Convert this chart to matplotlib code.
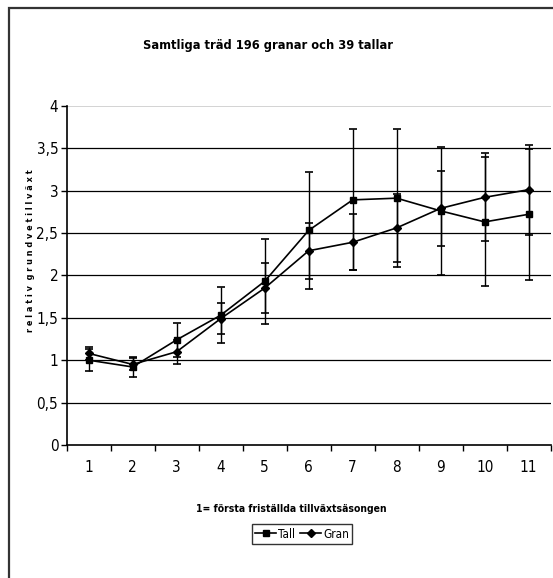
import matplotlib
matplotlib.use("Agg")
import matplotlib.pyplot as plt
from matplotlib.patches import Rectangle
from matplotlib.lines import Line2D

plt.rcParams['font.family'] = ['DejaVu Sans']
plt.rcParams['font.stretch'] = 'condensed'

# data
seasons = [1, 2, 3, 4, 5, 6, 7, 8, 9, 10, 11]
tall = [1.00, 0.92, 1.24, 1.53, 1.93, 2.53, 2.89, 2.91, 2.76, 2.63, 2.72]
tall_err = [0.13, 0.12, 0.20, 0.33, 0.50, 0.69, 0.83, 0.81, 0.75, 0.76, 0.77]
gran = [1.08, 0.95, 1.10, 1.49, 1.85, 2.29, 2.39, 2.56, 2.79, 2.92, 3.01]
gran_err = [0.08, 0.07, 0.14, 0.18, 0.29, 0.33, 0.33, 0.40, 0.44, 0.52, 0.53]
y_ticks = [0, 0.5, 1, 1.5, 2, 2.5, 3, 3.5, 4]
y_labels = ['0', '0,5', '1', '1,5', '2', '2,5', '3', '3,5', '4']

fig = plt.figure(figsize=(5.53, 5.78), dpi=100)
ax = fig.add_axes([0.1206, 0.2301, 0.8752, 0.5870])

# outer frame (only left and top edges visible in the picture)
fig.patches.append(Rectangle((8.5 / 553, -0.1), 1.2, 1.1 - 8.5 / 578,
                             transform=fig.transFigure, fill=False,
                             edgecolor='#333333', linewidth=1.6))

ax.errorbar(seasons, tall, yerr=tall_err, color='black', marker='s',
            markersize=5, linewidth=1.2, capsize=3, capthick=1.2,
            elinewidth=1.0, zorder=3)
ax.errorbar(seasons, gran, yerr=gran_err, color='black', marker='D',
            markersize=4.5, linewidth=1.2, capsize=3, capthick=1.2,
            elinewidth=1.0, zorder=3)

ax.set_xlim(0.5, 11.5)
ax.set_ylim(0, 4)
ax.set_yticks(y_ticks)
ax.set_yticklabels(y_labels)
ax.set_xticks(seasons)
ax.set_xticks([s + 0.5 for s in [0] + seasons], minor=True)
ax.tick_params(axis='x', which='major', length=0, pad=11, labelsize=11)
ax.tick_params(axis='x', which='minor', length=4, width=1, direction='out')
ax.tick_params(axis='y', length=4, width=1, direction='out', pad=2, labelsize=11)

for v in y_ticks[1:-1]:
    ax.axhline(v, color='black', linewidth=0.9, zorder=1)
ax.axhline(4, color='#cccccc', linewidth=1.2, zorder=1)

ax.spines['top'].set_visible(False)
ax.spines['right'].set_visible(False)
ax.spines['left'].set_linewidth(1.2)
ax.spines['bottom'].set_linewidth(1.2)

fig.text(268 / 553, 1 - 46 / 578, 'Samtliga träd 196 granar och 39 tallar',
         ha='center', va='center', fontsize=9.2, fontweight='bold')
fig.text(291 / 553, 1 - 509 / 578, '1= första friställda tillväxtsäsongen',
         ha='center', va='center', fontsize=7.5, fontweight='bold')
fig.text(31 / 553, 1 - 251 / 578, 'r e l a t i v  g r u n d v e t i l l v ä x t',
         ha='center', va='center', rotation=90, fontsize=6.5, fontweight='bold')

handles = [Line2D([], [], color='black', marker='s', markersize=4.5, linewidth=1.2),
           Line2D([], [], color='black', marker='D', markersize=4, linewidth=1.2)]
leg = fig.legend(handles, ['Tall', 'Gran'], loc='center',
                 bbox_to_anchor=(302 / 553, 1 - 534 / 578), ncol=2,
                 handlelength=1.8, handletextpad=0.15, columnspacing=0.4,
                 borderpad=0.3, fontsize=8.5, frameon=True, fancybox=False)
leg.get_frame().set_edgecolor('black')
leg.get_frame().set_linewidth(1.0)

fig.savefig('out.png', dpi=100)
